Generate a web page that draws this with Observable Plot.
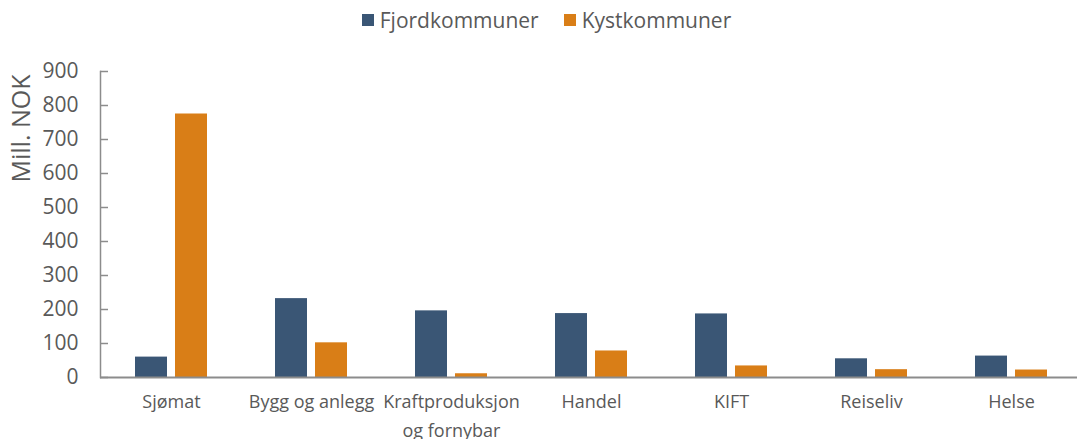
<!DOCTYPE html>
<html>
<head>
<meta charset="utf-8">
<script src="https://cdn.jsdelivr.net/npm/d3@7"></script>
<script src="https://cdn.jsdelivr.net/npm/@observablehq/plot@0.6"></script>
<style>
  html, body { margin: 0; padding: 0; background: #fff; overflow: hidden; }
  body { font-family: "Open Sans", sans-serif; color: #595959; }
  #legend { height: 40px; display: flex; justify-content: center; align-items: center; padding-left: 16px; box-sizing: border-box; font-size: 21px; gap: 25px; }
  #legend .item { display: flex; align-items: center; gap: 6px; }
  #legend .sw { width: 12px; height: 12px; display: inline-block; }
  #chart svg { display: block; }
</style>
</head>
<body>
<div id="legend"></div>
<div id="chart"></div>
<script>
const categories = ["Sjømat", "Bygg og anlegg", "Kraftproduksjon\nog fornybar", "Handel", "KIFT", "Reiseliv", "Helse"];
const seriesNames = ["Fjordkommuner", "Kystkommuner"];
const fjordValues = [60, 232, 196, 188, 187, 55, 63];
const kystValues = [775, 102, 11, 78, 34, 23, 22];
const yTicks = [0, 100, 200, 300, 400, 500, 600, 700, 800, 900];
const colors = ["#3A5675", "#D97E17"];

const fjord = categories.map((c, i) => ({category: c, series: seriesNames[0], value: fjordValues[i]}));
const kyst = categories.map((c, i) => ({category: c, series: seriesNames[1], value: kystValues[i]}));

const legend = document.getElementById("legend");
seriesNames.forEach((s, i) => {
  const item = document.createElement("span");
  item.className = "item";
  const sw = document.createElement("span");
  sw.className = "sw";
  sw.style.background = colors[i];
  const t = document.createElement("span");
  t.textContent = s;
  item.appendChild(sw); item.appendChild(t);
  legend.appendChild(item);
});

const W = 1077, ML = 100, MR = -5;
const chart = Plot.plot({
  width: W,
  height: 399,
  marginTop: 31,
  marginBottom: 62,
  marginLeft: ML,
  marginRight: MR,
  style: {fontFamily: "'Open Sans', sans-serif", color: "#595959", background: "#fff"},
  x: {domain: categories, paddingInner: 0.486, paddingOuter: 0.243},
  y: {domain: [0, 900]},
  color: {domain: seriesNames, range: colors},
  marks: [
    Plot.barY(fjord, {x: "category", y: "value", fill: "series", insetRight: 40, insetLeft: 0}),
    Plot.barY(kyst, {x: "category", y: "value", fill: "series", insetLeft: 40, insetRight: 0}),
    Plot.tickY(yTicks, {y: d => d, stroke: "#8c8c8c", strokeWidth: 1.5, insetRight: (W - ML - MR) - 8}),
    Plot.frame({anchor: "left", stroke: "#8c8c8c", strokeWidth: 1.5}),
    Plot.ruleY([0], {stroke: "#8c8c8c", strokeWidth: 2}),
    Plot.axisY({ticks: yTicks, tickSize: 0, tickPadding: 22, fontSize: 21, fill: "#595959", label: null}),
    Plot.axisX({tickSize: 0, tickPadding: 10, fontSize: 18, fill: "#595959", lineHeight: 1.6, label: null}),
    Plot.text(["Mill. NOK"], {frameAnchor: "top-left", rotate: -90, dx: -79, dy: 57, fontSize: 25, fill: "#595959", textAnchor: "middle", lineAnchor: "middle"})
  ]
});
document.getElementById("chart").appendChild(chart);
</script>
</body>
</html>
